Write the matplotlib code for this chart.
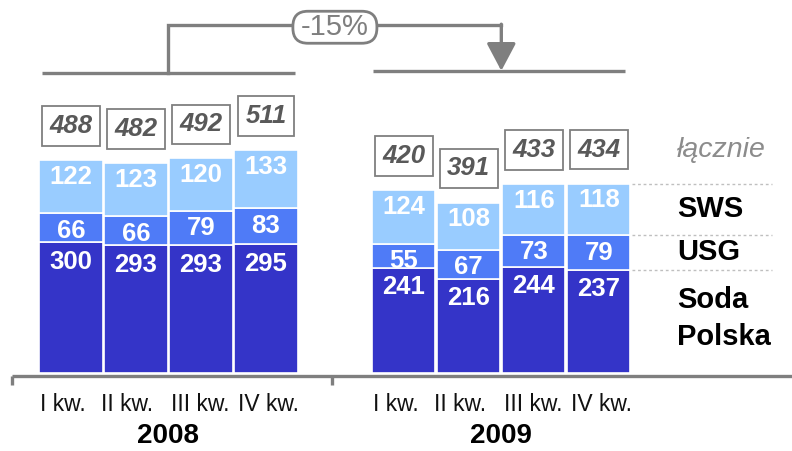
import matplotlib
matplotlib.use('Agg')
import matplotlib.pyplot as plt
from matplotlib.patches import FancyArrowPatch, FancyBboxPatch

# --- data ---
quarters = ['I kw.', 'II kw.', 'III kw.', 'IV kw.']
years = ['2008', '2009']
soda = [300, 293, 293, 295, 241, 216, 244, 237]
usg = [66, 66, 79, 83, 55, 67, 73, 79]
sws = [122, 123, 120, 133, 124, 108, 116, 118]
totals = [488, 482, 492, 511, 420, 391, 433, 434]
series_names = ['Soda\nPolska', 'USG', 'SWS']
total_name = 'łącznie'
change_label = '-15%'

colors = ['#3434C8', '#4F7BF7', '#99CCFF']
gray = '#7F7F7F'

plt.rcParams['font.family'] = ['Liberation Sans', 'DejaVu Sans']

fig = plt.figure(figsize=(7.92, 4.51), dpi=100)
ax = fig.add_axes([0, 0, 1, 1])
ax.set_xlim(-1.092, 11.092)
ax.set_ylim(-178.9, 855.5)
ax.axis('off')

group_gap = 5.12
xs = [i + g * group_gap for g in range(len(years)) for i in range(len(quarters))]
width = 0.97
px_x = 1 / 65.0      # data x units per pixel
px_y = 1 / 0.436     # data y units per pixel

# stacked bars, labels sit near the top of each segment
label_drop = [14, 12.5, 12]
bottom = [0] * len(xs)
for vals, col, drop in zip([soda, usg, sws], colors, label_drop):
    ax.bar(xs, vals, width, bottom=bottom, color=col, edgecolor='white', linewidth=1.2, zorder=2)
    for x, b, v in zip(xs, bottom, vals):
        ax.annotate(str(v), (x, b + v), xytext=(0, -drop), textcoords='offset points',
                    ha='center', va='center', color='white', fontsize=18.5, fontweight='bold', zorder=3)
    bottom = [b + v for b, v in zip(bottom, vals)]

# total boxes
for x, t in zip(xs, totals):
    ax.annotate(str(t), (x, t), xytext=(0, 24.5), textcoords='offset points',
                ha='center', va='center', color='#595959', fontsize=18.5,
                fontweight='bold', fontstyle='italic', zorder=4,
                bbox=dict(boxstyle='square,pad=0.3', fc='white', ec=gray, lw=1.3))

# bottom axis line with group ticks
sep = (xs[3] + xs[4]) / 2
ax.plot([-0.91, 11.092], [-7, -7], color=gray, lw=2.4, solid_capstyle='butt', clip_on=False)
for tx in [-0.91, sep - 0.05]:
    ax.plot([tx, tx], [-7, -27], color=gray, lw=2.4, solid_capstyle='butt')

q_shift = [-8, -9, -1, 3]
for k, x in enumerate(xs):
    ax.text(x + q_shift[k % 4] * px_x, -73, quarters[k % 4], ha='center', va='center',
            fontsize=16.5, color='#111111')
for g, yr in enumerate(years):
    cx = (xs[g * 4] + xs[g * 4 + 3]) / 2
    ax.text(cx, -144, yr, ha='center', va='center', fontsize=20, fontweight='bold', color='black')

# bracket with -15% change
g1 = (xs[0] + xs[3]) / 2
g2 = (xs[4] + xs[7]) / 2
y_grp, y_top = 690, 798
ax.plot([xs[0] - 0.45, xs[3] + 0.45], [y_grp - 2, y_grp - 2], color=gray, lw=2.4, solid_capstyle='butt')
ax.plot([xs[4] - 0.48, xs[7] + 0.4], [y_grp + 3, y_grp + 3], color=gray, lw=2.4, solid_capstyle='butt')
ax.plot([g1, g1, g2], [y_grp - 2, y_top, y_top], color=gray, lw=2.4, solid_joinstyle='miter')
ax.add_patch(FancyArrowPatch((g2, y_top + 2), (g2, y_grp + 3), arrowstyle='-|>,head_length=0.85,head_width=0.45',
                             mutation_scale=20, color=gray, lw=2.4, shrinkA=0, shrinkB=0))
bw, bh = 84 * px_x, 32 * px_y
by = y_top - 5
ax.add_patch(FancyBboxPatch((sep - bw / 2, by - bh / 2), bw, bh,
                            boxstyle='round,pad=0,rounding_size=%f' % (15 * px_x),
                            mutation_aspect=px_y / px_x, fc='white', ec=gray, lw=2, zorder=5))
ax.text(sep, by, change_label, ha='center', va='center', fontsize=21, color=gray, zorder=6)

# right side legend from last bar
last = len(xs) - 1
lx = 9.32
segs_bottom = [0, soda[last], soda[last] + usg[last]]
segs_vals = [soda[last], usg[last], sws[last]]
for name, b, v in zip(series_names, segs_bottom, segs_vals):
    ax.text(lx, b + v / 2 + (6 if '\n' in name else 0), name, ha='left', va='center', fontsize=21,
            fontweight='bold', color='black', linespacing=1.39)
for b in segs_bottom[1:] + [totals[last]]:
    ax.plot([xs[last] + width / 2 + 0.03, 10.78], [b, b], color='#BFBFBF', lw=1, ls=(0, (2, 2)))
ax.annotate(total_name, (lx, totals[last]), xytext=(0, 24.5), textcoords='offset points',
            ha='left', va='center', fontsize=20.5, fontstyle='italic', color='#8C8C8C')

fig.savefig('out.png', dpi=100)
